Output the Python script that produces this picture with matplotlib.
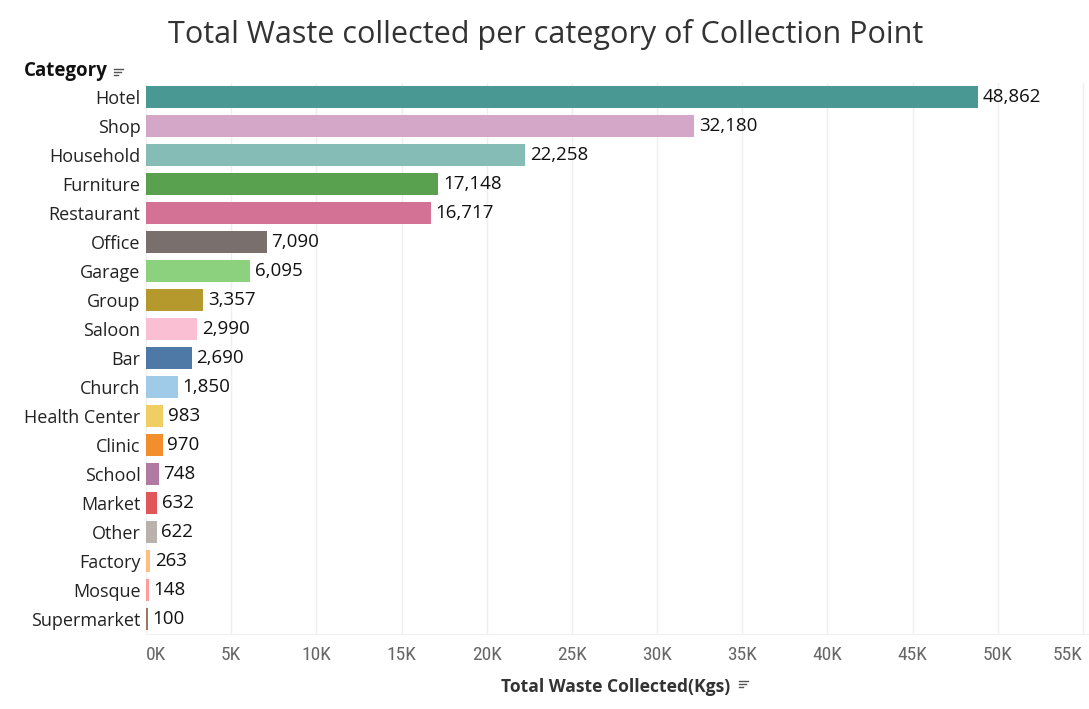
import matplotlib.pyplot as plt
from matplotlib.lines import Line2D
from matplotlib.ticker import FuncFormatter

categories = ['Hotel', 'Shop', 'Household', 'Furniture', 'Restaurant', 'Office',
              'Garage', 'Group', 'Saloon', 'Bar', 'Church', 'Health Center',
              'Clinic', 'School', 'Market', 'Other', 'Factory', 'Mosque',
              'Supermarket']
waste = [48862, 32180, 22258, 17148, 16717, 7090, 6095, 3357, 2990, 2690,
         1850, 983, 970, 748, 632, 622, 263, 148, 100]
colors = ['#499894', '#D4A6C8', '#86BCB6', '#59A14F', '#D37295', '#79706E',
          '#8CD17D', '#B6992D', '#FABFD2', '#4E79A7', '#A0CBE8', '#F1CE63',
          '#F28E2B', '#B07AA1', '#E15759', '#BAB0AC', '#FFBE7D', '#FF9D9A',
          '#9D7660']
x_ticks = list(range(0, 55001, 5000))

plt.rcParams['font.family'] = ['Open Sans', 'DejaVu Sans']

W, H = 1089, 709
fig = plt.figure(figsize=(W / 100, H / 100), dpi=100)
left, right, top, bottom = 146, 1088, 82.5, 633.5
ax = fig.add_axes([left / W, 1 - bottom / H, (right - left) / W, (bottom - top) / H])

ypos = list(range(len(categories)))
ax.barh(ypos, waste, height=0.76, color=colors, zorder=2)
for y, v in zip(ypos, waste):
    ax.text(v + 280, y, f'{v:,}', va='center', ha='left', fontsize=13.5,
            color='#111111')

ax.set_ylim(len(categories) - 0.5, -0.5)
ax.set_xlim(0, 55300)
ax.set_yticks(ypos)
ax.set_yticklabels(categories, fontsize=13, color='#222222')
ax.set_xticks(x_ticks)
ax.xaxis.set_major_formatter(FuncFormatter(lambda v, p: f'{int(v / 1000)}K'))
ax.tick_params(axis='x', labelsize=14, labelcolor='#666666', length=0, pad=9)
ax.tick_params(axis='y', length=0, pad=4)
xlabels = ax.get_xticklabels()
for lbl in xlabels:
    lbl.set_fontfamily(['Roboto Condensed', 'Open Sans', 'DejaVu Sans'])
xlabels[0].set_horizontalalignment('left')
xlabels[-1].set_horizontalalignment('right')
ax.grid(axis='x', color='#efefef', linewidth=1, zorder=0)
for s in ['top', 'right', 'left']:
    ax.spines[s].set_visible(False)
ax.spines['bottom'].set_color('#f0f0f0')

fig.text(546 / W, 1 - 35 / H, 'Total Waste collected per category of Collection Point',
         ha='center', va='center', fontsize=22, color='#333333')
fig.text(24 / W, 1 - 71 / H, 'Category', ha='left', va='center', fontsize=13.5,
         fontweight='bold', color='#111111')
fig.text(616 / W, 1 - 687 / H, 'Total Waste Collected(Kgs)', ha='center',
         va='center', fontsize=12.6, fontweight='bold', color='#333333')


def sort_icon(x, y):
    # three short lines, shrinking, like the tableau sort marker
    for i, w in enumerate([9, 7, 4]):
        yy = 1 - (y + i * 3) / H
        fig.add_artist(Line2D([x / W, (x + w) / W], [yy, yy], color='#555555',
                              linewidth=1))


sort_icon(114, 69)
sort_icon(739, 681)

fig.savefig('out.png', dpi=100)
